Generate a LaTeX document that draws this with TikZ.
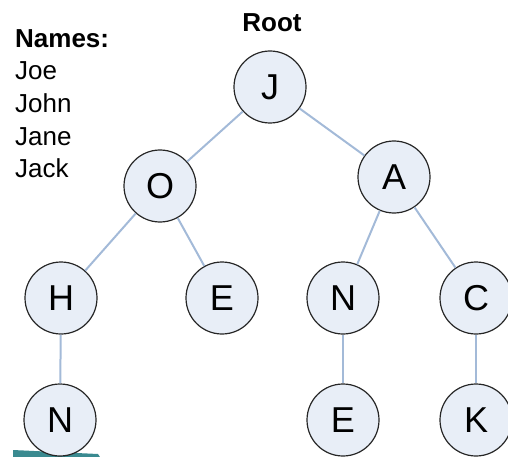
\documentclass[tikz,border=0pt]{standalone}
\usepackage{fontspec}
\setmainfont{Liberation Sans}
\usepackage{tikz}
\definecolor{nodefill}{HTML}{E8EEF7}
\definecolor{edgeblue}{HTML}{A3BAD8}
\definecolor{tealbar}{HTML}{3A8A90}
\begin{document}
\begin{tikzpicture}[x=1pt,y=-1pt,
    vertex/.style={circle,draw=black!85,line width=1.2pt,fill=nodefill,minimum size=72pt,inner sep=0pt,font=\fontsize{36}{36}\selectfont},
    branch/.style={draw=edgeblue,line width=2pt},
    label/.style={anchor=base west,inner sep=0pt,font=\fontsize{26}{26}\selectfont}]
            \useasboundingbox (0,0) rectangle (508,457);
            % teal strip in the corner
            \fill[tealbar] (13,450) -- (98,454) -- (100,457) -- (13,457) -- cycle;
            % list of names
            \node[label,font=\fontsize{26}{26}\selectfont\bfseries] (names) at (15,48) {Names:};
            \node[label] (joe) at (15,80) {Joe};
            \node[label] (john) at (15,113) {John};
            \node[label] (jane) at (15,146) {Jane};
            \node[label] (jack) at (15,178) {Jack};
            \node[anchor=base,inner sep=0pt,font=\fontsize{26}{26}\selectfont\bfseries] (root) at (272,32) {Root};
            % tree
            \node[vertex] (j) at (270,87) {J};
            \node[vertex] (o) at (160,186) {O};
            \node[vertex] (a) at (394,177) {A};
            \node[vertex] (h) at (61,298) {H};
            \node[vertex] (e1) at (222,298) {E};
            \node[vertex] (n1) at (343,298) {N};
            \node[vertex] (c) at (476,298) {C};
            \node[vertex] (n2) at (60,420) {N};
            \node[vertex] (e2) at (343,420) {E};
            \node[vertex] (k) at (476,420) {K};
            \draw[branch] (j) -- (o);
            \draw[branch] (j) -- (a);
            \draw[branch] (o) -- (h);
            \draw[branch] (o) -- (e1);
            \draw[branch] (a) -- (n1);
            \draw[branch] (a) -- (c);
            \draw[branch] (h) -- (n2);
            \draw[branch] (n1) -- (e2);
            \draw[branch] (c) -- (k);
\end{tikzpicture}
\end{document}
